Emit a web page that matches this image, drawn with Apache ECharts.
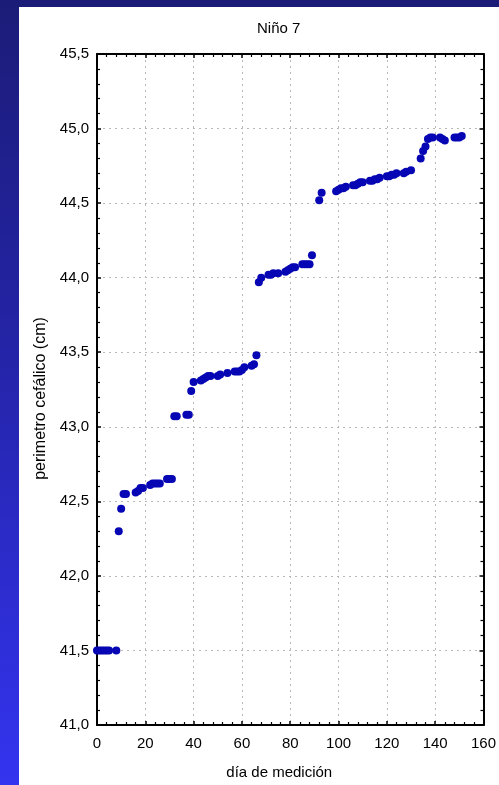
<!DOCTYPE html>
<html>
<head>
<meta charset="utf-8">
<script src="https://cdn.jsdelivr.net/npm/echarts@6/dist/echarts.min.js"></script>
<style>
html,body{margin:0;padding:0;width:499px;height:785px;overflow:hidden;
  background:linear-gradient(to bottom,#1c1c78 0%,#2424a8 45%,#3434f0 100%);}
#top{position:absolute;left:0;top:0;width:499px;height:7px;background:#1b1b78;}
#chart{position:absolute;left:19px;top:7px;width:480px;height:778px;background:#ffffff;}
</style>
</head>
<body>
<div id="top"></div>
<div id="chart"></div>
<script>
// Data
const days = [0,1,2,3,4,5,8,9,10,11,12,16,17,18,19,22,23,24,25,26,29,30,31,32,33,37,38,39,40,
  43,44,45,46,47,50,51,54,57,58,59,60,61,64,65,66,67,68,71,72,73,75,78,79,80,81,82,85,86,87,88,89,
  92,93,99,100,101,102,103,106,107,108,109,110,113,114,115,116,117,120,121,122,123,124,127,128,130,
  134,135,136,137,138,139,142,143,144,148,149,150,151];
const perimetro = [41.5,41.5,41.5,41.5,41.5,41.5,41.5,42.30,42.45,42.55,42.55,42.56,42.57,42.59,42.59,
  42.61,42.62,42.62,42.62,42.62,42.65,42.65,42.65,43.07,43.07,43.08,43.08,43.24,43.30,
  43.31,43.32,43.33,43.34,43.34,43.34,43.35,43.36,43.37,43.37,43.37,43.38,43.40,43.41,43.42,43.48,43.97,44.00,
  44.02,44.02,44.03,44.03,44.04,44.05,44.06,44.07,44.07,44.09,44.09,44.09,44.09,44.15,
  44.52,44.57,44.58,44.59,44.60,44.60,44.61,44.62,44.62,44.63,44.64,44.64,44.65,44.65,44.66,44.66,44.67,
  44.68,44.68,44.69,44.69,44.70,44.70,44.71,44.72,
  44.80,44.85,44.88,44.93,44.94,44.94,44.94,44.93,44.92,44.94,44.94,44.94,44.95];
const xTicks = [0,20,40,60,80,100,120,140,160];
const yTicks = [41.0,41.5,42.0,42.5,43.0,43.5,44.0,44.5,45.0,45.5];

const points = days.map((d,i)=>[d, perimetro[i]]);
const fmtY = v => v.toFixed(1).replace('.', ',');
const font = 'Liberation Sans, Arial, sans-serif';

const chart = echarts.init(document.getElementById('chart'), null, {renderer:'canvas'});
const axisLine = {show:true, onZero:false, lineStyle:{color:'#000', width:2}};
const tick = {show:true, inside:true, length:4, lineStyle:{color:'#000', width:1.5}};
const minor = {show:true, splitNumber:5, length:3, lineStyle:{color:'#000', width:1.2}};
const grid = {show:true, lineStyle:{color:'#b8b8b8', width:1, type:[2,4]}};

chart.setOption({
  animation:false,
  backgroundColor:'#ffffff',
  title:{text:'Niño 7', left:233, top:9,
    textStyle:{fontFamily:font, fontSize:15, fontWeight:'normal', color:'#000'}},
  grid:{left:78, top:47, width:387, height:672},
  xAxis:[
    {type:'value', min:xTicks[0], max:xTicks[xTicks.length-1], interval:20, position:'bottom',
     name:'día de medición', nameLocation:'middle', nameGap:40,
     nameTextStyle:{fontFamily:font, fontSize:15, color:'#000', padding:[0,22,0,0]},
     axisLine, axisTick:tick, minorTick:minor, splitLine:grid,
     axisLabel:{fontFamily:font, fontSize:15, color:'#000', margin:11}},
    {type:'value', min:xTicks[0], max:xTicks[xTicks.length-1], interval:20, position:'top',
     axisLine, axisTick:tick, minorTick:minor, splitLine:{show:false}, axisLabel:{show:false}}
  ],
  yAxis:[
    {type:'value', min:yTicks[0], max:yTicks[yTicks.length-1], interval:0.5, position:'left',
     name:'perimetro cefálico (cm)', nameLocation:'middle', nameGap:48,
     nameTextStyle:{fontFamily:font, fontSize:16, color:'#000', padding:[0,18,0,0]},
     axisLine, axisTick:tick, minorTick:minor, splitLine:grid,
     axisLabel:{fontFamily:font, fontSize:15, color:'#000', margin:8, formatter:fmtY}},
    {type:'value', min:yTicks[0], max:yTicks[yTicks.length-1], interval:0.5, position:'right',
     axisLine, axisTick:tick, minorTick:minor, splitLine:{show:false}, axisLabel:{show:false}}
  ],
  series:[{
    type:'scatter', xAxisIndex:0, yAxisIndex:0, data:points,
    symbol:'circle', symbolSize:8,
    itemStyle:{color:'#0606b4', opacity:1}
  }]
});
</script>
</body>
</html>
